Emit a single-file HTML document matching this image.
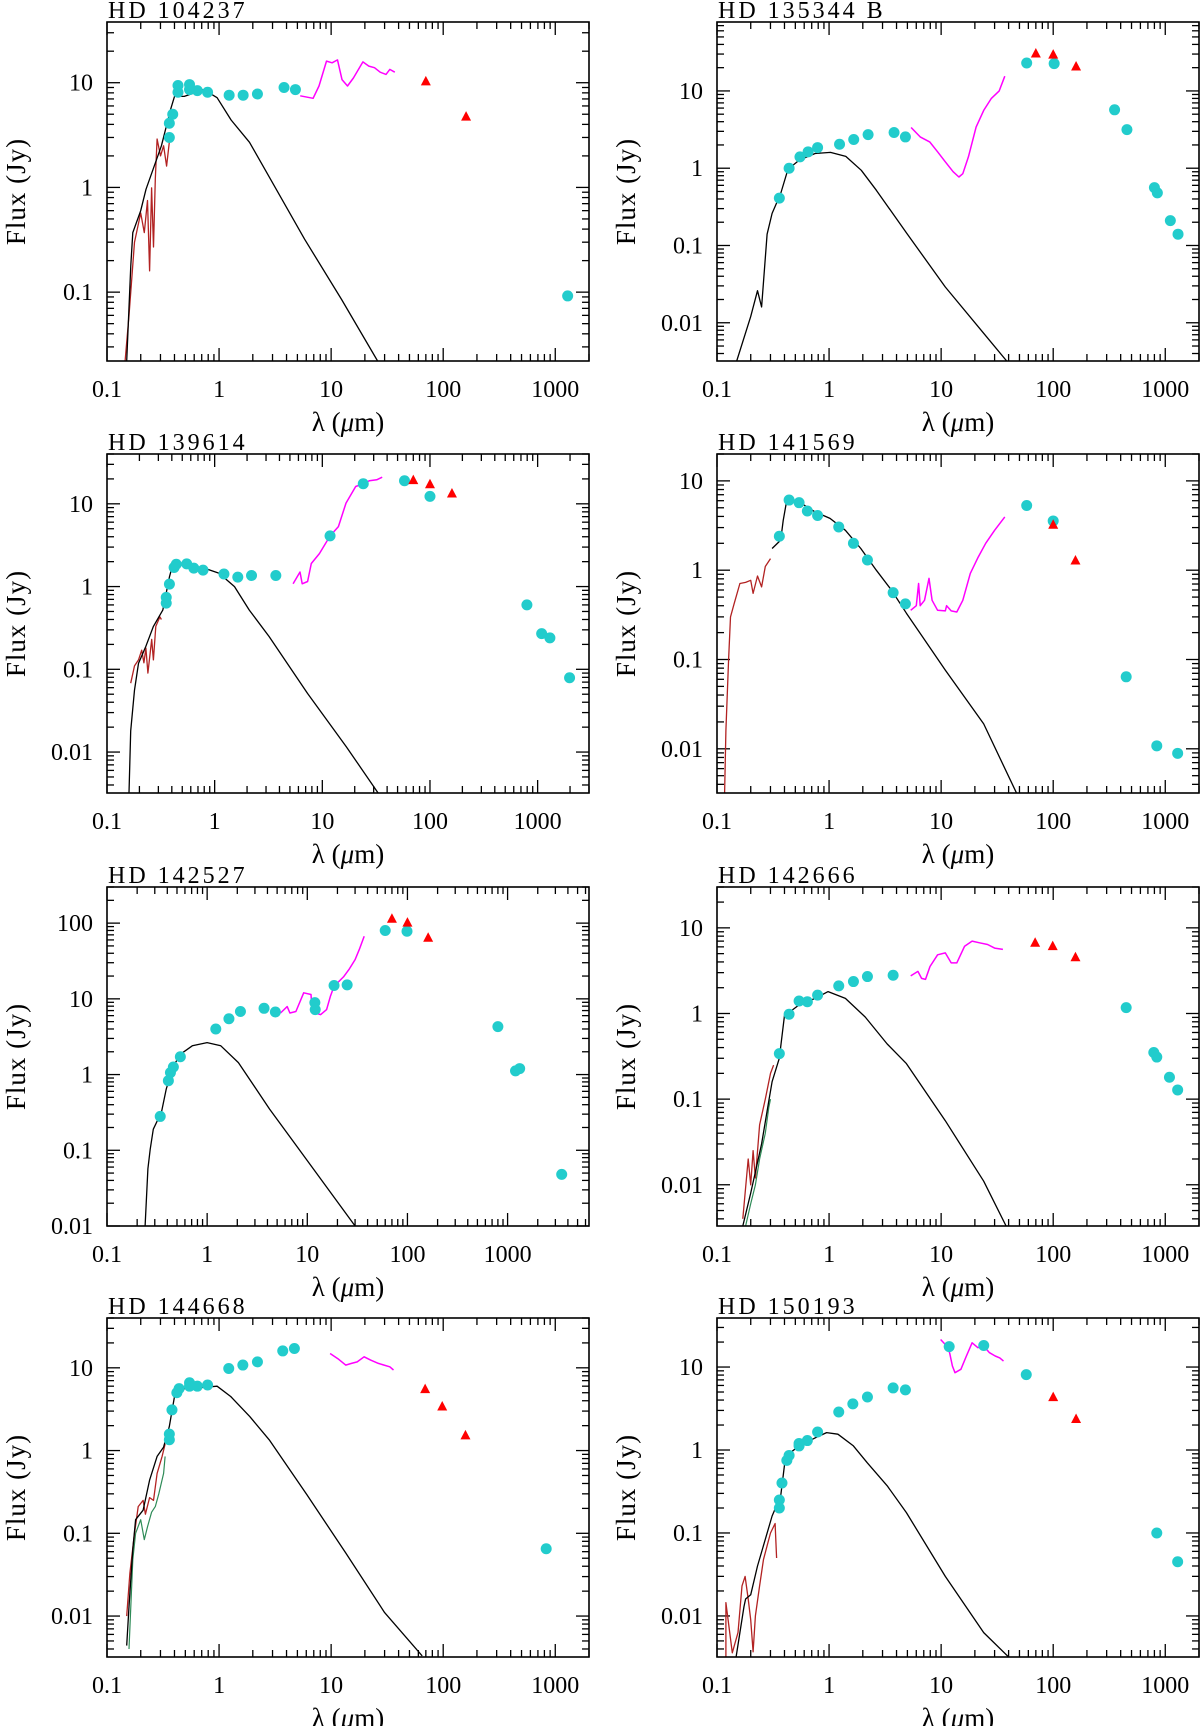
<!DOCTYPE html>
<html>
<head>
<meta charset="utf-8">
<style>
html,body{margin:0;padding:0;background:#fff;}
svg{display:block;}
text{font-family:"Liberation Serif",serif;fill:#000;}
</style>
</head>
<body>
<svg id="fig" width="1200" height="1726" viewBox="0 0 1200 1726" xmlns="http://www.w3.org/2000/svg"></svg>
<script>
// ---------- DATA (wavelength in micron, flux in Jy) ----------
// HD 104237
const p1Phot = [[0.36,3.0],[0.36,4.1],[0.386,5.0],[0.43,8.1],[0.43,9.4],[0.545,8.6],[0.545,9.6],[0.64,8.4],[0.79,8.1],[1.23,7.6],[1.64,7.6],[2.2,7.8],[3.8,9.0],[4.8,8.6],[1290,0.092]];
const p1Tri = [[70,10.4],[160,4.8]];
const p1Spec = [[5.3,7.5],[6.9,7.1],[7.8,9.3],[9.1,16.1],[10.2,15.5],[11.4,16.5],[12.5,10.7],[14,9.3],[15.8,11.1],[19.2,15.8],[21.7,14.4],[24.4,13.9],[27.4,12.6],[30.9,12.0],[33.4,13.4],[37,12.6]];
const p1Model = [[0.15,0.022],[0.163,0.18],[0.17,0.37],[0.2,0.6],[0.223,0.96],[0.306,2.5],[0.37,5.6],[0.4,7.4],[0.49,7.4],[0.73,8.6],[0.96,7.2],[1.28,4.4],[1.87,2.7],[2.78,1.28],[5.8,0.32],[12.4,0.085],[26,0.022]];
const p1Iue = [[0.145,0.022],[0.157,0.06],[0.176,0.3],[0.2,0.57],[0.215,0.37],[0.23,0.75],[0.24,0.16],[0.25,0.99],[0.26,0.27],[0.27,1.2],[0.28,2.9],[0.3,2.0],[0.32,2.5],[0.34,1.6],[0.36,2.7]];
const p1Iue2 = [];
// HD 135344 B
const p2Phot = [[0.36,0.41],[0.44,1.0],[0.55,1.4],[0.65,1.63],[0.79,1.85],[1.24,2.04],[1.66,2.35],[2.23,2.72],[3.8,2.9],[4.8,2.54],[58,23],[102,22.6],[353,5.7],[455,3.16],[800,0.56],[850,0.48],[1110,0.21],[1300,0.14]];
const p2Tri = [[70,31],[100,30],[160,21]];
const p2Spec = [[5.4,3.36],[6.5,2.54],[7.9,2.19],[9.3,1.63],[10.9,1.21],[12.8,0.9],[14.4,0.77],[15.6,0.85],[17.5,1.4],[20.5,3.4],[24,5.6],[28,7.95],[33,10],[37,15.5]];
const p2Model = [[0.15,0.0032],[0.2,0.012],[0.23,0.026],[0.25,0.016],[0.28,0.14],[0.31,0.26],[0.37,0.47],[0.43,0.97],[0.54,1.27],[0.75,1.55],[1.03,1.6],[1.41,1.42],[1.94,0.94],[2.64,0.52],[4.95,0.143],[10.9,0.029],[24,0.0073],[38.5,0.0032]];
const p2Iue = [];
const p2Iue2 = [];
// HD 139614
const p3Phot = [[0.355,0.63],[0.355,0.74],[0.38,1.07],[0.42,1.7],[0.44,1.86],[0.55,1.88],[0.64,1.67],[0.78,1.58],[1.22,1.42],[1.64,1.3],[2.2,1.36],[3.7,1.36],[11.8,4.1],[24,17.5],[58,19],[100,12.3],[795,0.6],[1090,0.27],[1300,0.24],[1980,0.079]];
const p3Tri = [[70,19.6],[100,17.5],[160,13.5]];
const p3Spec = [[5.35,1.08],[6.2,1.5],[6.5,1.08],[7.3,1.15],[7.9,1.9],[9.4,2.5],[11.8,4.1],[14.1,5.3],[16.6,10.2],[20.4,16.2],[24,17.5],[27.3,19],[32,19.5],[36,21]];
const p3Model = [[0.16,0.0032],[0.166,0.018],[0.18,0.056],[0.196,0.118],[0.23,0.19],[0.27,0.33],[0.33,0.52],[0.38,1.3],[0.41,1.9],[0.53,1.8],[0.8,1.67],[1.1,1.45],[1.53,1.0],[2.1,0.52],[3.2,0.25],[7.3,0.051],[16.7,0.0116],[33,0.0032]];
const p3Iue = [[0.166,0.068],[0.18,0.11],[0.196,0.13],[0.21,0.17],[0.22,0.12],[0.23,0.18],[0.24,0.09],[0.26,0.23],[0.27,0.13],[0.284,0.33],[0.31,0.43],[0.32,0.4]];
const p3Iue2 = [];
// HD 141569
const p4Phot = [[0.36,2.4],[0.44,6.1],[0.54,5.7],[0.64,4.6],[0.79,4.1],[1.22,3.05],[1.65,2.0],[2.2,1.3],[3.73,0.56],[4.8,0.42],[58,5.3],[100,3.56],[448,0.064],[840,0.0108],[1290,0.0089]];
const p4Tri = [[100,3.27],[158,1.3]];
const p4Spec = [[5.35,0.356],[6.0,0.4],[6.3,0.71],[6.5,0.4],[7.1,0.46],[7.8,0.81],[8.3,0.46],[9.3,0.356],[10.9,0.35],[11.2,0.4],[12.3,0.35],[13.8,0.34],[15.6,0.46],[18.2,0.92],[21.4,1.4],[25,2.0],[30,2.8],[37,3.95]];
const p4Model = [[0.31,1.75],[0.37,2.17],[0.39,3.6],[0.42,6.1],[0.54,5.8],[0.75,4.5],[1.02,3.8],[1.4,2.8],[1.92,1.75],[2.64,1.0],[3.6,0.6],[4.9,0.33],[10.9,0.076],[24,0.019],[47,0.0032]];
const p4Iue = [[0.117,0.0032],[0.12,0.016],[0.127,0.1],[0.132,0.3],[0.142,0.42],[0.16,0.71],[0.18,0.73],[0.2,0.77],[0.21,0.55],[0.23,0.86],[0.25,0.65],[0.27,1.1],[0.3,1.35]];
const p4Iue2 = [];
// HD 142527
const p5Phot = [[0.34,0.28],[0.41,0.83],[0.43,1.06],[0.46,1.26],[0.54,1.72],[1.22,4.0],[1.65,5.46],[2.15,6.8],[3.7,7.5],[4.8,6.7],[11.9,8.9],[12,7.2],[18.5,15],[25,15.3],[60,80],[99,78],[800,4.3],[1200,1.12],[1320,1.2],[3470,0.048]];
const p5Tri = [[70,116],[100,103],[161,65]];
const p5Spec = [[5.4,6.5],[6.3,7.9],[6.7,6.5],[7.7,6.8],[9.2,12],[10.9,11.4],[11.1,8.0],[12,6.5],[13.6,6.2],[15.6,7.2],[17,10.8],[18.5,14.7],[23,19.5],[26,24.3],[30,33],[33,44.6],[37,67]];
const p5Model = [[0.24,0.01],[0.256,0.057],[0.27,0.103],[0.29,0.19],[0.35,0.32],[0.39,0.64],[0.46,1.29],[0.54,1.85],[0.71,2.4],[1.0,2.64],[1.37,2.4],[2.05,1.44],[4.2,0.35],[10,0.073],[30,0.01]];
const p5Iue = [];
const p5Iue2 = [];
// HD 142666
const p6Phot = [[0.36,0.34],[0.44,0.98],[0.54,1.4],[0.64,1.37],[0.79,1.64],[1.22,2.1],[1.65,2.36],[2.2,2.7],[3.73,2.8],[448,1.17],[790,0.35],[840,0.31],[1090,0.18],[1290,0.128]];
const p6Tri = [[69,6.8],[99,6.2],[158,4.6]];
const p6Spec = [[5.35,2.75],[6.2,3.1],[6.7,2.57],[7.25,2.5],[7.95,3.54],[9.3,4.85],[10.9,5.1],[12.3,3.9],[13.8,3.9],[16.2,6.1],[18.9,7.0],[22,6.7],[26,6.4],[30,5.8],[35.6,5.6]];
const p6Model = [[0.17,0.0033],[0.2,0.008],[0.25,0.03],[0.29,0.095],[0.31,0.16],[0.36,0.3],[0.4,0.95],[0.47,1.1],[0.54,1.26],[0.75,1.5],[0.98,1.8],[1.4,1.5],[2.1,0.91],[3.3,0.44],[4.9,0.26],[10.9,0.056],[24,0.011],[38,0.0033]];
const p6Iue = [[0.17,0.004],[0.19,0.02],[0.2,0.01],[0.21,0.025],[0.22,0.012],[0.24,0.05],[0.27,0.1],[0.3,0.2],[0.32,0.25]];
const p6Iue2 = [[0.18,0.0033],[0.2,0.006],[0.22,0.01],[0.24,0.02],[0.27,0.04],[0.29,0.08],[0.3,0.1]];
// HD 144668
const p7Phot = [[0.36,1.35],[0.36,1.58],[0.38,3.1],[0.42,5.0],[0.44,5.6],[0.545,6.0],[0.545,6.6],[0.64,6.0],[0.79,6.2],[1.22,9.8],[1.63,10.8],[2.2,11.8],[3.7,16],[4.7,17.1],[830,0.065]];
const p7Tri = [[69,5.6],[98,3.45],[158,1.55]];
const p7Spec = [[9.8,14.9],[11.5,12.9],[13.5,10.8],[15.2,11.3],[17.1,11.8],[19.7,13.6],[22.5,12.4],[26.4,11.3],[29.7,10.8],[33.4,10.3],[36,9.4]];
const p7Model = [[0.15,0.0044],[0.157,0.013],[0.17,0.064],[0.18,0.146],[0.21,0.19],[0.24,0.44],[0.28,0.85],[0.32,1.1],[0.36,1.95],[0.4,4.5],[0.49,5.6],[0.73,5.8],[0.96,6.0],[1.27,4.5],[1.88,2.57],[2.8,1.35],[6.1,0.29],[13.5,0.058],[30,0.011],[65,0.0033]];
const p7Iue = [[0.15,0.01],[0.16,0.033],[0.176,0.1],[0.19,0.21],[0.21,0.25],[0.22,0.17],[0.24,0.27],[0.26,0.25],[0.28,0.53],[0.31,0.85],[0.33,1.2]];
const p7Iue2 = [[0.157,0.004],[0.17,0.048],[0.18,0.1],[0.2,0.146],[0.215,0.084],[0.23,0.12],[0.25,0.18],[0.27,0.21],[0.29,0.3],[0.32,0.53],[0.33,0.85]];
// HD 150193
const p8Phot = [[0.36,0.2],[0.36,0.25],[0.38,0.4],[0.42,0.75],[0.44,0.86],[0.54,1.12],[0.54,1.2],[0.64,1.3],[0.79,1.65],[1.22,2.87],[1.63,3.6],[2.2,4.35],[3.73,5.6],[4.8,5.3],[11.8,17.6],[24,18.2],[57.5,8.1],[840,0.1],[1290,0.045]];
const p8Tri = [[100,4.4],[160,2.4]];
const p8Spec = [[9.9,21.5],[10.9,18.7],[11.9,14.9],[12.6,10.3],[13.3,8.55],[15,9.4],[16.8,13.6],[18.9,19.6],[21.3,17.1],[24,17.9],[27,14.9],[30.4,13.6],[33.4,12.9],[36,11.8]];
const p8Model = [[0.148,0.0032],[0.16,0.0063],[0.174,0.013],[0.18,0.016],[0.2,0.018],[0.23,0.04],[0.27,0.084],[0.31,0.16],[0.37,0.28],[0.4,0.66],[0.47,0.968],[0.54,1.12],[0.75,1.4],[0.95,1.62],[1.2,1.55],[1.65,1.12],[2.2,0.7],[3.3,0.37],[4.9,0.176],[10.9,0.03],[24,0.0063],[40,0.0032]];
const p8Iue = [[0.12,0.0032],[0.12,0.0145],[0.137,0.0036],[0.154,0.0063],[0.167,0.023],[0.178,0.03],[0.19,0.016],[0.2,0.009],[0.21,0.0037],[0.22,0.01],[0.24,0.023],[0.26,0.048],[0.28,0.07],[0.3,0.1],[0.33,0.13],[0.34,0.05]];
const p8Iue2 = [];

const panelTitles = ["HD 104237","HD 135344 B","HD 139614","HD 141569","HD 142527","HD 142666","HD 144668","HD 150193"];
const xMaxes = [2000,2000,3000,2000,6500,2000,2000,2000];
const yMins = [0.022,0.0032,0.0032,0.0032,0.01,0.0033,0.0032,0.0032];
const yMaxes = [38,78,40,20,300,30,40,39];
const xTickLabels = ["0.1","1","10","100","1000"];
const yTickValues = [0.01,0.1,1,10,100];
const yTickLabels = ["0.01","0.1","1","10","100"];

const series = [
 [p1Phot,p1Tri,p1Spec,p1Model,p1Iue,p1Iue2],
 [p2Phot,p2Tri,p2Spec,p2Model,p2Iue,p2Iue2],
 [p3Phot,p3Tri,p3Spec,p3Model,p3Iue,p3Iue2],
 [p4Phot,p4Tri,p4Spec,p4Model,p4Iue,p4Iue2],
 [p5Phot,p5Tri,p5Spec,p5Model,p5Iue,p5Iue2],
 [p6Phot,p6Tri,p6Spec,p6Model,p6Iue,p6Iue2],
 [p7Phot,p7Tri,p7Spec,p7Model,p7Iue,p7Iue2],
 [p8Phot,p8Tri,p8Spec,p8Model,p8Iue,p8Iue2]
];

// ---------- LAYOUT ----------
const NS = "http://www.w3.org/2000/svg";
const svg = document.getElementById('fig');
const colX = [107,717];
const rowY = [22,454,887,1318];
const W = 482, H = 339;

function mk(tag, attrs, parent){
  const e = document.createElementNS(NS, tag);
  for (const k in attrs) e.setAttribute(k, attrs[k]);
  parent.appendChild(e);
  return e;
}

for (let i = 0; i < 8; i++){
  const x0 = colX[i % 2], y0 = rowY[Math.floor(i / 2)];
  const xmin = 0.1, xmax = xMaxes[i], ymin = yMins[i], ymax = yMaxes[i];
  const lx0 = Math.log10(xmin), lx1 = Math.log10(xmax);
  const ly0 = Math.log10(ymin), ly1 = Math.log10(ymax);
  const sx = v => x0 + (Math.log10(v) - lx0) / (lx1 - lx0) * W;
  const sy = v => y0 + H - (Math.log10(v) - ly0) / (ly1 - ly0) * H;

  const g = mk('g', {}, svg);
  
  

  const clip = mk('clipPath', {id: 'clip' + i}, g);
  mk('rect', {x: x0, y: y0, width: W, height: H}, clip);

  const t = mk('text', {x: x0 + 1, y: y0 - 4, 'font-size': 24, 'letter-spacing': '3', 'xml:space': 'preserve'}, g);
  t.textContent = panelTitles[i];
  
  

  const tg = mk('g', {stroke: '#000', 'stroke-width': 1.3}, g);
  
  
  for (let d = -1; d <= 4; d++){
    for (let m = 1; m <= 9; m++){
      const v = m * Math.pow(10, d);
      if (v < xmin * 0.999 || v > xmax) continue;
      const px = sx(v), L = m === 1 ? 13 : 7;
      mk('line', {x1: px, y1: y0 + H, x2: px, y2: y0 + H - L}, tg);
      mk('line', {x1: px, y1: y0, x2: px, y2: y0 + L}, tg);
    }
  }
  for (let d = -3; d <= 3; d++){
    for (let m = 1; m <= 9; m++){
      const v = m * Math.pow(10, d);
      if (v < ymin || v > ymax) continue;
      const py = sy(v), L = m === 1 ? 13 : 7;
      mk('line', {x1: x0, y1: py, x2: x0 + L, y2: py}, tg);
      mk('line', {x1: x0 + W, y1: py, x2: x0 + W - L, y2: py}, tg);
    }
  }

  for (let k = 0; k < xTickLabels.length; k++){
    const v = Math.pow(10, k - 1);
    if (v > xmax) continue;
    const tl = mk('text', {x: sx(v), y: y0 + H + 36, 'font-size': 24, 'text-anchor': 'middle'}, g);
    tl.textContent = xTickLabels[k];
    
    
  }
  for (let k = 0; k < yTickValues.length; k++){
    const v = yTickValues[k];
    if (v < ymin || v > ymax) continue;
    const tl = mk('text', {x: x0 - 14, y: sy(v) + 8, 'font-size': 24, 'text-anchor': 'end'}, g);
    tl.textContent = yTickLabels[k];
    
    
  }
  const xt = mk('text', {x: x0 + W / 2, y: y0 + H + 70, 'font-size': 27, 'text-anchor': 'middle'}, g);
  xt.innerHTML = 'λ (<tspan font-style="italic">μ</tspan>m)';
  
  
  const yx = x0 - 82, yy = y0 + H / 2;
  const yt = mk('text', {x: yx, y: yy, 'font-size': 27, 'letter-spacing': '1', 'text-anchor': 'middle', transform: 'rotate(-90 ' + yx + ' ' + yy + ')'}, g);
  yt.textContent = 'Flux (Jy)';
  
  

  const [phot, tri, spec, model, iue, iue2] = series[i];
  const dg = mk('g', {'clip-path': 'url(#clip' + i + ')'}, g);
  const line = (arr, color, w, name) => {
    if (!arr.length) return;
    const p = mk('polyline', {points: arr.map(q => sx(q[0]).toFixed(1) + ',' + sy(q[1]).toFixed(1)).join(' '), fill: 'none', stroke: color, 'stroke-width': w, 'stroke-linejoin': 'round'}, dg);
    
    
  };
  line(iue2, '#2e8b57', 1.2, 'iue-spectrum-2');
  line(iue, '#b22222', 1.3, 'iue-spectrum');
  line(model, '#000000', 1.3, 'stellar-model');
  line(spec, '#ff00ff', 1.5, 'ir-spectrum');
  for (const q of phot){
    const c = mk('circle', {cx: sx(q[0]), cy: sy(q[1]), r: 5.5, fill: '#22cccc'}, dg);
    
    
  }
  for (const q of tri){
    const cx = sx(q[0]), cy = sy(q[1]);
    const p = mk('polygon', {points: (cx - 5) + ',' + (cy + 4.5) + ' ' + (cx + 5) + ',' + (cy + 4.5) + ' ' + cx + ',' + (cy - 5), fill: '#ff0000'}, dg);
    
    
  }

  const box = mk('rect', {x: x0, y: y0, width: W, height: H, fill: 'none', stroke: '#000', 'stroke-width': 1.6}, g);
  
  
}
</script>
</body>
</html>
